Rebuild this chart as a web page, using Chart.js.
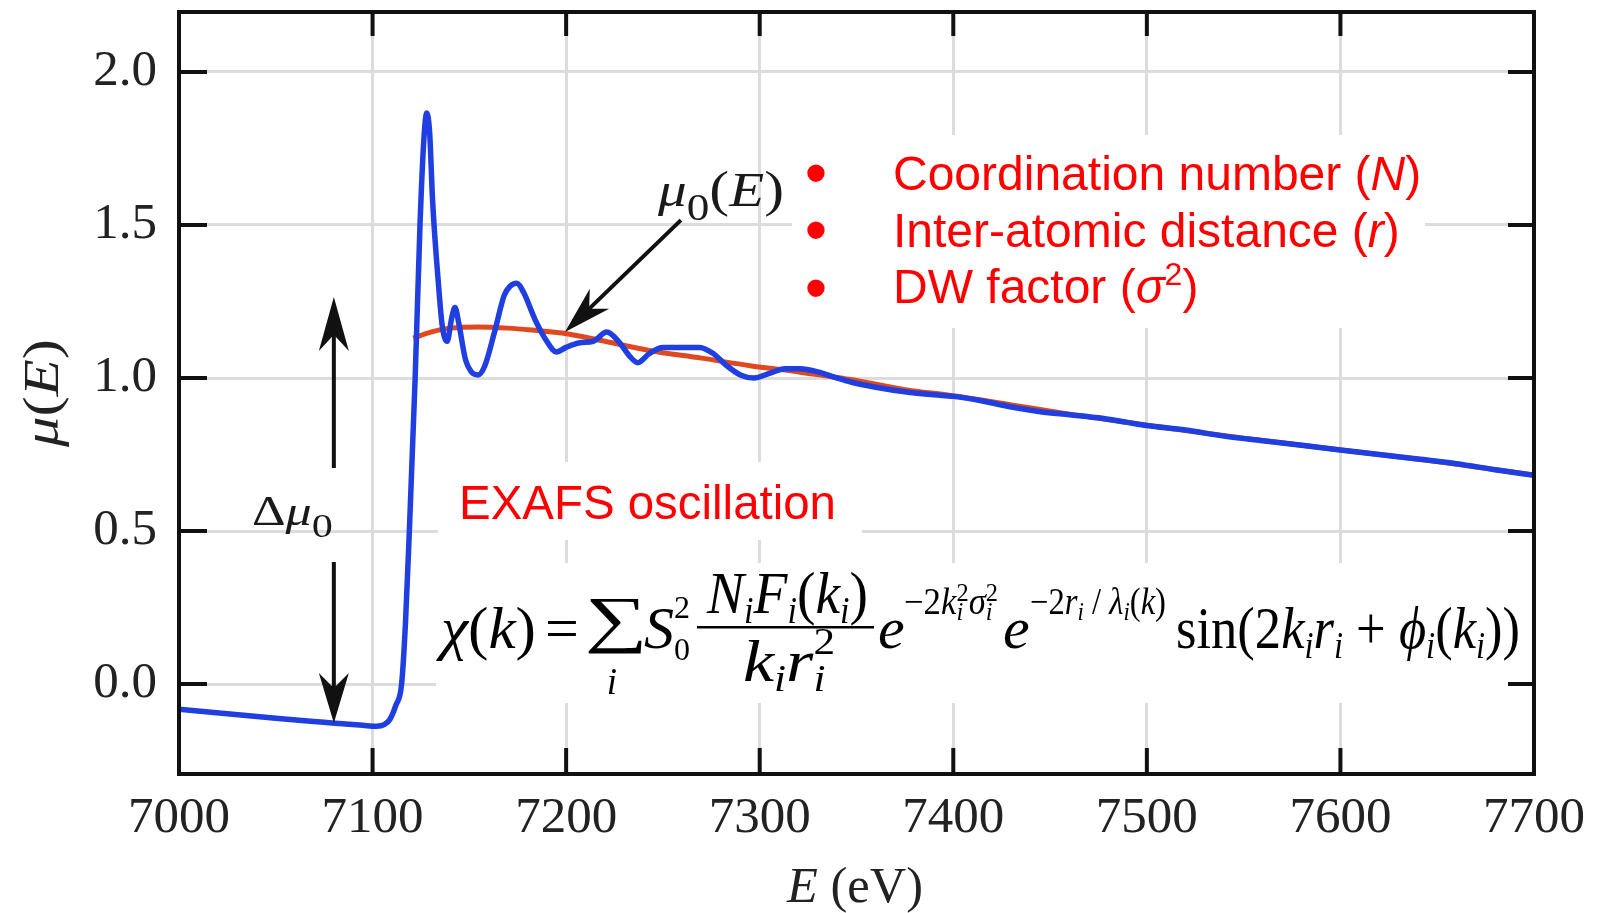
<!DOCTYPE html>
<html>
<head>
<meta charset="utf-8">
<script src="https://cdn.jsdelivr.net/npm/chart.js@4.4.0/dist/chart.umd.min.js"></script>
<style>
  html, body { margin: 0; padding: 0; background: #fff; }
  #wrap { width: 1606px; height: 913px; }
</style>
</head>
<body>
<div id="wrap"><canvas id="exafs-chart" width="1606" height="913"></canvas></div>
<script>
// measured absorption mu(E)
const energy = [7000, 7025, 7050, 7075, 7095, 7102, 7106, 7109, 7112, 7115, 7117, 7119, 7122, 7124.5, 7126.5, 7128,
    7129.5, 7131, 7134, 7136, 7138.5, 7141, 7142.6, 7144.5, 7148, 7151, 7154.5, 7158, 7163, 7168, 7171, 7174.5,
    7178, 7184, 7190, 7195, 7200, 7207, 7214, 7221, 7227, 7233, 7237, 7243, 7250, 7260, 7269, 7276, 7283, 7290,
    7297, 7305, 7313, 7321, 7330, 7340, 7347, 7360, 7375, 7390, 7400, 7415, 7430, 7445, 7460, 7475, 7490, 7500,
    7520, 7540, 7560, 7580, 7600, 7620, 7640, 7660, 7680, 7700];
const mu = [-0.082, -0.097, -0.112, -0.125, -0.135, -0.138, -0.133, -0.115, -0.07, 0.0, 0.2, 0.5, 1.0, 1.5, 1.78, 1.866,
    1.80, 1.58, 1.31, 1.17, 1.12, 1.20, 1.23, 1.18, 1.06, 1.02, 1.01, 1.04, 1.15, 1.27, 1.30, 1.31,
    1.28, 1.19, 1.12, 1.085, 1.10, 1.115, 1.12, 1.15, 1.12, 1.07, 1.05, 1.08, 1.10, 1.10, 1.10, 1.08, 1.04, 1.01,
    1.00, 1.015, 1.03, 1.03, 1.02, 1.0, 0.987, 0.97, 0.955, 0.945, 0.94, 0.925, 0.905, 0.89, 0.88, 0.87, 0.855, 0.845,
    0.83, 0.81, 0.795, 0.78, 0.765, 0.75, 0.735, 0.72, 0.70, 0.682];

// smooth background mu0(E)
const energy0 = [7121, 7130, 7140, 7155, 7170, 7185, 7198, 7220, 7243, 7270, 7295, 7320, 7347, 7375, 7400, 7430,
    7460, 7500, 7550, 7600, 7650, 7700];
const mu0 = [1.13, 1.15, 1.163, 1.167, 1.163, 1.155, 1.147, 1.12, 1.09, 1.065, 1.04, 1.02, 0.995, 0.962, 0.942, 0.912,
    0.882, 0.846, 0.803, 0.765, 0.727, 0.683];

const xTicks = [7000, 7100, 7200, 7300, 7400, 7500, 7600, 7700];
const yTicks = [0.0, 0.5, 1.0, 1.5, 2.0];

const SERIF = '"Liberation Serif", "DejaVu Serif", serif';
const SANS = '"Liberation Sans", Arial, sans-serif';

function fontOf(p) {
    return (p.i ? 'italic ' : '') + p.s + 'px ' + (p.f || SERIF);
}

function partWidth(ctx, p) {
    ctx.font = fontOf(p);
    let w = ctx.measureText(p.t).width;
    if (p.over) {
        ctx.font = fontOf({ ...p, ...p.over });
        w = Math.max(w, ctx.measureText(p.over.t).width);
    }
    return w;
}

// draw a run of text pieces; if x1 is given the run is stretched to end there
function drawSeq(ctx, parts, x0, y, x1) {
    const nat = parts.reduce((a, p) => a + partWidth(ctx, p), 0);
    const sx = x1 != null ? (x1 - x0) / nat : 1;
    ctx.save();
    ctx.textAlign = 'left';
    ctx.textBaseline = 'alphabetic';
    ctx.translate(x0, y);
    ctx.scale(sx, 1);
    let x = 0;
    for (const p of parts) {
        const w = partWidth(ctx, p);
        ctx.font = fontOf(p);
        ctx.fillText(p.t, x, p.dy || 0);
        if (p.over) {
            const q = { ...p, ...p.over };
            ctx.font = fontOf(q);
            ctx.fillText(q.t, x, q.dy || 0);
        }
        x += w;
    }
    ctx.restore();
}

function fitGlyph(ctx, t, font, x0, y0, x1, y1) {
    ctx.save();
    ctx.font = font;
    ctx.textAlign = 'left';
    ctx.textBaseline = 'alphabetic';
    const m = ctx.measureText(t);
    const w = m.actualBoundingBoxLeft + m.actualBoundingBoxRight;
    const h = m.actualBoundingBoxAscent + m.actualBoundingBoxDescent;
    const sx = (x1 - x0) / w, sy = (y1 - y0) / h;
    ctx.translate(x0 + m.actualBoundingBoxLeft * sx, y0 + m.actualBoundingBoxAscent * sy);
    ctx.scale(sx, sy);
    ctx.fillText(t, 0, 0);
    ctx.restore();
}

function arrow(ctx, x0, y0, x1, y1, L, W) {
    const dx = x1 - x0, dy = y1 - y0;
    const len = Math.hypot(dx, dy);
    const ux = dx / len, uy = dy / len;
    const px = -uy, py = ux;
    ctx.save();
    ctx.strokeStyle = '#111';
    ctx.fillStyle = '#111';
    ctx.lineWidth = 4;
    ctx.beginPath();
    ctx.moveTo(x0, y0);
    ctx.lineTo(x1 - ux * L * 0.6, y1 - uy * L * 0.6);
    ctx.stroke();
    ctx.beginPath();
    ctx.moveTo(x1, y1);
    ctx.lineTo(x1 - ux * L + px * W, y1 - uy * L + py * W);
    ctx.lineTo(x1 - ux * L * 0.7, y1 - uy * L * 0.7);
    ctx.lineTo(x1 - ux * L - px * W, y1 - uy * L - py * W);
    ctx.closePath();
    ctx.fill();
    ctx.restore();
}

const M = 60, S = 37, SS = 26;

const annotations = {
    id: 'annotations',
    beforeDatasetsDraw(chart) {
        const ctx = chart.ctx;
        ctx.save();
        ctx.fillStyle = '#fff';
        ctx.fillRect(792, 135, 633, 193);   // bullet list
        ctx.fillRect(438, 462, 424, 78);    // EXAFS oscillation
        ctx.fillRect(436, 563, 1096, 140);  // formula
        ctx.restore();
    },
    afterDatasetsDraw(chart) {
        const ctx = chart.ctx;
        const { left, right, top, bottom } = chart.chartArea;
        const xs = chart.scales.x, ys = chart.scales.y;
        const px = (e, m) => [xs.getPixelForValue(e), ys.getPixelForValue(m)];

        // frame and inward ticks
        ctx.save();
        ctx.strokeStyle = '#111';
        ctx.lineWidth = 4;
        ctx.strokeRect(left, top, right - left, bottom - top);
        ctx.beginPath();
        xTicks.slice(1, -1).forEach(v => {
            const x = xs.getPixelForValue(v);
            ctx.moveTo(x, bottom); ctx.lineTo(x, bottom - 26);
            ctx.moveTo(x, top); ctx.lineTo(x, top + 24);
        });
        yTicks.forEach(v => {
            const y = ys.getPixelForValue(v);
            ctx.moveTo(left, y); ctx.lineTo(left + 28, y);
            ctx.moveTo(right, y); ctx.lineTo(right - 26, y);
        });
        ctx.stroke();
        ctx.restore();

        // axis titles
        ctx.save();
        ctx.fillStyle = '#222';
        drawSeq(ctx, [{ t: 'E', i: true, s: 50 }, { t: ' (eV)', s: 50 }], 787, 902, 923);
        ctx.translate(58, 447);
        ctx.rotate(-Math.PI / 2);
        drawSeq(ctx, [{ t: 'μ', i: true, s: 50 }, { t: '(', s: 50 }, { t: 'E', i: true, s: 50 }, { t: ')', s: 50 }], 0, 0, 108);
        ctx.restore();

        // arrows
        const a = px(7080, 0.706), b = px(7080, 1.265);
        arrow(ctx, a[0], a[1], b[0], b[1], 54, 15);
        const c = px(7080, 0.399), d = px(7080, -0.127);
        arrow(ctx, c[0], c[1], d[0], d[1], 50, 15);
        const e = px(7259.3, 1.516), f = px(7199.4, 1.150);
        arrow(ctx, e[0], e[1], f[0], f[1], 48, 14);

        // math labels
        ctx.save();
        ctx.fillStyle = '#1a1a1a';
        drawSeq(ctx, [{ t: 'μ', i: true, s: 48 }, { t: '0', s: 38, dy: 14 }, { t: '(', s: 50 },
            { t: 'E', i: true, s: 48 }, { t: ')', s: 50 }], 658, 206, 784);
        drawSeq(ctx, [{ t: 'Δ', s: 42 }, { t: 'μ', i: true, s: 42 }, { t: '0', s: 34, dy: 12 }], 252, 525, 333);
        ctx.restore();

        // red notes
        ctx.save();
        ctx.fillStyle = '#ff0000';
        const bullet = { f: SANS, s: 48 };
        ctx.font = '64px ' + SANS;
        ctx.textAlign = 'center';
        [172, 229, 287].forEach(y => ctx.fillText('•', 816, y + 23));
        drawSeq(ctx, [{ ...bullet, t: 'Coordination number (' }, { ...bullet, t: 'N', i: true }, { ...bullet, t: ')' }], 893, 190);
        drawSeq(ctx, [{ ...bullet, t: 'Inter-atomic distance (' }, { ...bullet, t: 'r', i: true }, { ...bullet, t: ')' }], 893, 247);
        drawSeq(ctx, [{ ...bullet, t: 'DW factor (' }, { ...bullet, t: 'σ', i: true }, { f: SANS, s: 32, t: '2', dy: -18 }, { ...bullet, t: ')' }], 893, 303);
        drawSeq(ctx, [{ ...bullet, t: 'EXAFS oscillation' }], 459, 519, 836);
        ctx.restore();

        // EXAFS equation
        ctx.save();
        ctx.fillStyle = '#000';
        const Y = 648;
        drawSeq(ctx, [{ t: 'χ', i: true, s: M }, { t: '(', s: M }, { t: 'k', i: true, s: M }, { t: ')', s: M }], 441, Y, 536);
        drawSeq(ctx, [{ t: '=', s: M }], 545, Y);
        fitGlyph(ctx, '∑', '80px ' + SERIF, 588, 598, 642, 654);
        ctx.font = 'italic ' + S + 'px ' + SERIF;
        ctx.textAlign = 'center';
        ctx.fillText('i', 612, 694);
        drawSeq(ctx, [{ t: 'S', i: true, s: M }, { t: '2', s: 32, dy: -30, over: { t: '0', dy: 12 } }], 644, Y, 690);
        drawSeq(ctx, [{ t: 'N', i: true, s: M }, { t: 'i', i: true, s: S, dy: 10 }, { t: 'F', i: true, s: M },
            { t: 'i', i: true, s: S, dy: 10 }, { t: '(', s: M }, { t: 'k', i: true, s: M },
            { t: 'i', i: true, s: S, dy: 10 }, { t: ')', s: M }], 707, 613, 868);
        ctx.fillRect(697, 626, 177, 2.5);
        drawSeq(ctx, [{ t: 'k', i: true, s: M }, { t: 'i', i: true, s: S, dy: 10 }, { t: 'r', i: true, s: M },
            { t: 'i', i: true, s: S, dy: 10, over: { t: '2', i: false, dy: -27 } }], 743, 681, 835);
        drawSeq(ctx, [{ t: 'e', i: true, s: M }], 878, Y);
        drawSeq(ctx, [{ t: '−2', s: S }, { t: 'k', i: true, s: S },
            { t: 'i', i: true, s: SS, dy: 6, over: { t: '2', i: false, dy: -13 } }, { t: 'σ', i: true, s: S },
            { t: 'i', i: true, s: SS, dy: 6, over: { t: '2', i: false, dy: -13 } }], 904, 614, 998);
        drawSeq(ctx, [{ t: 'e', i: true, s: M }], 1003, Y);
        drawSeq(ctx, [{ t: '−2', s: S }, { t: 'r', i: true, s: S }, { t: 'i', i: true, s: SS, dy: 6 },
            { t: ' / ', s: S }, { t: 'λ', i: true, s: S }, { t: 'i', i: true, s: SS, dy: 6 },
            { t: '(', s: S }, { t: 'k', i: true, s: S }, { t: ')', s: S }], 1030, 614, 1166);
        drawSeq(ctx, [{ t: 'sin(2', s: M }, { t: 'k', i: true, s: M }, { t: 'i', i: true, s: S, dy: 10 },
            { t: 'r', i: true, s: M }, { t: 'i', i: true, s: S, dy: 10 }, { t: ' + ', s: M },
            { t: 'ϕ', i: true, s: M }, { t: 'i', i: true, s: S, dy: 10 }, { t: '(', s: M },
            { t: 'k', i: true, s: M }, { t: 'i', i: true, s: S, dy: 10 }, { t: '))', s: M }], 1176, Y, 1520);
        ctx.restore();
    }
};

const ctx = document.getElementById('exafs-chart').getContext('2d');

new Chart(ctx, {
    type: 'line',
    data: {
        datasets: [{
            label: 'mu(E)',
            data: energy.map((x, i) => ({ x, y: mu[i] })),
            borderColor: '#1f3fe0',
            borderWidth: 5.5,
            pointRadius: 0,
            cubicInterpolationMode: 'monotone',
            fill: false,
            order: 0
        }, {
            label: 'mu0(E)',
            data: energy0.map((x, i) => ({ x, y: mu0[i] })),
            borderColor: '#e0481f',
            borderWidth: 5,
            pointRadius: 0,
            cubicInterpolationMode: 'monotone',
            fill: false,
            order: 1
        }]
    },
    options: {
        responsive: false,
        animation: false,
        events: [],
        layout: { padding: { top: 12, right: 72, bottom: 0, left: 0 } },
        plugins: { legend: { display: false }, tooltip: { enabled: false } },
        scales: {
            x: {
                type: 'linear',
                min: 7000,
                max: 7700,
                afterBuildTicks: s => { s.ticks = xTicks.map(v => ({ value: v })); },
                afterFit: s => { s.height = 139; s.paddingLeft = 0; s.paddingRight = 0; },
                grid: { color: '#dcdcdc', lineWidth: 3, drawTicks: false },
                border: { display: false },
                ticks: {
                    padding: 14,
                    color: '#222',
                    font: { family: SERIF, size: 51 },
                    maxRotation: 0,
                    callback: v => String(v)
                }
            },
            y: {
                min: -0.294,
                max: 2.196,
                afterBuildTicks: s => { s.ticks = yTicks.map(v => ({ value: v })); },
                afterFit: s => { s.width = 179; s.paddingTop = 0; s.paddingBottom = 0; },
                grid: { color: '#dcdcdc', lineWidth: 3, drawTicks: false },
                border: { display: false },
                ticks: {
                    padding: 22,
                    color: '#222',
                    font: { family: SERIF, size: 51 },
                    callback: v => v.toFixed(1)
                }
            }
        }
    },
    plugins: [annotations]
});
</script>
</body>
</html>
